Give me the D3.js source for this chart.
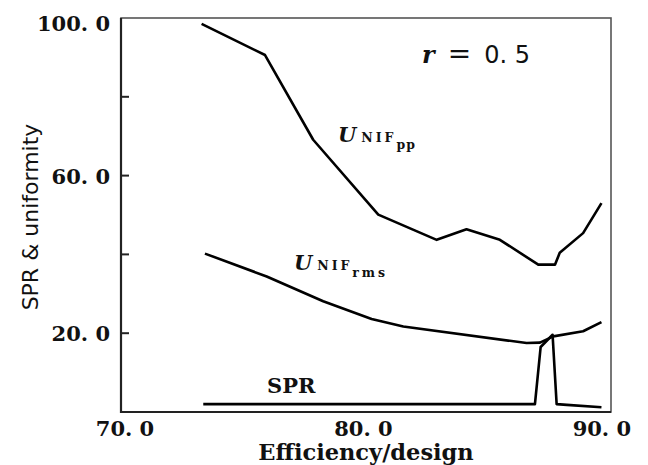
<!DOCTYPE html>
<html>
<head>
<meta charset="utf-8">
<script src="https://cdn.jsdelivr.net/npm/d3@7"></script>
<style>
  html, body { margin: 0; padding: 0; background: #fff; }
  svg { display: block; }
</style>
</head>
<body>
<svg id="chart" width="648" height="465"></svg>
<script>
// ---- data ----
const xDomain = [70, 90.55];
const yDomain = [0, 100];
const xTickValues = [70, 80, 90];
const xTickLabels = ["70. 0", "80. 0", "90. 0"];
const yTickValues = [20, 40, 60, 80, 100];
const yTickLabels = ["20. 0", "", "60. 0", "", "100. 0"];

const uppX = [73.38, 76.04, 78.06, 80.79, 83.24, 84.49, 85.89, 87.50, 88.20, 88.40, 89.38, 90.15];
const uppY = [98.5, 90.6, 69.1, 50.1, 43.7, 46.4, 43.7, 37.4, 37.4, 40.4, 45.4, 53.0];

const urmsX = [73.52, 76.11, 78.48, 80.51, 81.84, 87.01, 87.57, 88.13, 89.38, 90.15];
const urmsY = [40.2, 34.4, 28.1, 23.6, 21.7, 17.5, 17.6, 19.2, 20.5, 22.8];

const sprX = [73.45, 87.36, 87.60, 88.10, 88.27, 88.70, 90.15];
const sprY = [2.0, 2.0, 16.5, 19.6, 2.0, 1.8, 1.2];

// ---- layout ----
const svg = d3.select("#chart");
const mLeft = 121, mRight = 611, mTop = 18, mBottom = 412;
const x = d3.scaleLinear().domain(xDomain).range([mLeft, mRight]);
const y = d3.scaleLinear().domain(yDomain).range([mBottom, mTop]);

const serifBold = "'DejaVu Serif', serif";
const sans = "'DejaVu Sans', sans-serif";

// frame
svg.append("rect")
  .attr("x", mLeft).attr("y", mTop)
  .attr("width", mRight - mLeft).attr("height", mBottom - mTop)
  .attr("fill", "none").attr("stroke", "#555").attr("stroke-width", 1.6);
svg.append("line").attr("x1", mLeft).attr("x2", mLeft).attr("y1", mTop).attr("y2", mBottom + 1)
  .attr("stroke", "#222").attr("stroke-width", 2.2);
svg.append("line").attr("x1", mLeft).attr("x2", mRight).attr("y1", mBottom).attr("y2", mBottom)
  .attr("stroke", "#222").attr("stroke-width", 2.2);

// y ticks (inward)
svg.append("g").selectAll("line").data(yTickValues.filter(v => v < 100)).join("line")
  .attr("x1", mLeft).attr("x2", mLeft + 8)
  .attr("y1", d => y(d)).attr("y2", d => y(d))
  .attr("stroke", "#222").attr("stroke-width", 2);

// y tick labels
svg.append("g").selectAll("text").data(yTickValues).join("text")
  .attr("x", mLeft - 11)
  .attr("y", (d, i) => y(d) + (d === 100 ? 13 : 8))
  .attr("text-anchor", "end")
  .attr("font-family", serifBold).attr("font-weight", "bold").attr("font-size", 21)
  .attr("fill", "#111")
  .text((d, i) => yTickLabels[i]);

// x tick labels
svg.append("g").selectAll("text").data(xTickValues).join("text")
  .attr("x", d => x(d) + 4)
  .attr("y", 436)
  .attr("text-anchor", "middle")
  .attr("font-family", serifBold).attr("font-weight", "bold").attr("font-size", 21)
  .attr("fill", "#111")
  .text((d, i) => xTickLabels[i]);

// axis titles
svg.append("text")
  .attr("x", 366).attr("y", 460)
  .attr("text-anchor", "middle")
  .attr("font-family", serifBold).attr("font-weight", "bold").attr("font-size", 22.5)
  .attr("fill", "#111")
  .text("Efficiency/design");

svg.append("text")
  .attr("transform", "translate(38,217) rotate(-90)")
  .attr("text-anchor", "middle")
  .attr("font-family", sans).attr("font-size", 22)
  .attr("fill", "#111")
  .text("SPR & uniformity");

// lines
const line = d3.line().x(d => x(d[0])).y(d => y(d[1]));
const series = [
  d3.zip(uppX, uppY),
  d3.zip(urmsX, urmsY),
  d3.zip(sprX, sprY)
];
svg.append("g").selectAll("path").data(series).join("path")
  .attr("d", line)
  .attr("fill", "none").attr("stroke", "#000").attr("stroke-width", 2.6)
  .attr("stroke-linejoin", "round");

// annotations
const rText = svg.append("text").attr("x", 422).attr("y", 63)
  .attr("font-size", 24).attr("fill", "#111");
rText.append("tspan").attr("font-family", "'DejaVu Serif', serif").attr("font-style", "italic").attr("font-weight", "bold").text("r");
rText.append("tspan").attr("font-family", sans).attr("dx", 13).attr("font-size", 28).text("=");
rText.append("tspan").attr("font-family", sans).attr("dx", 13).text("0. 5");

function uLabel(x0, y0, sub, subSpacing) {
  const t = svg.append("text").attr("x", x0).attr("y", y0).attr("fill", "#111")
    .attr("font-family", serifBold).attr("font-weight", "bold");
  t.append("tspan").attr("font-style", "italic").attr("font-size", 21).text("U");
  t.append("tspan").attr("font-size", 12.5).attr("dx", 5).attr("letter-spacing", 3).text("NIF");
  t.append("tspan").attr("font-size", 12.5).attr("dy", 7).attr("letter-spacing", subSpacing).text(sub);
}
uLabel(338, 142, "pp", 1);
uLabel(294, 270, "rms", 3);

svg.append("text").attr("x", 267).attr("y", 393)
  .attr("font-family", serifBold).attr("font-weight", "bold").attr("font-size", 21)
  .attr("fill", "#111").text("SPR");
</script>
</body>
</html>
